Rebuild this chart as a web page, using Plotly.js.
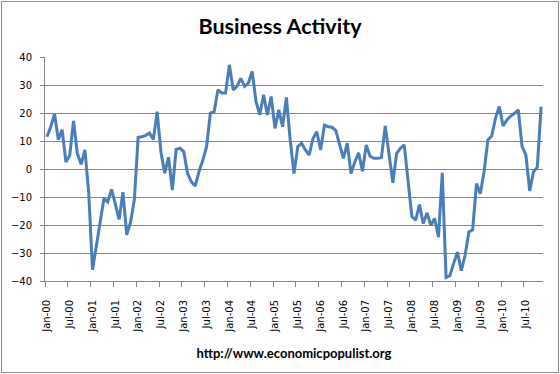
<!DOCTYPE html>
<html>
<head>
<meta charset="utf-8">
<script src="https://cdn.plot.ly/plotly-3.0.1.min.js"></script>
<style>
  html, body { margin: 0; padding: 0; background: #fff; }
  #wrap { position: relative; width: 560px; height: 374px; }
  #chart { width: 560px; height: 374px; }
  #frame { position: absolute; left: 1px; top: 1px; width: 556px; height: 370px;
           border: 1px solid #8c8c8c; pointer-events: none; }
</style>
</head>
<body>
<div id="wrap"><div id="chart"></div><div id="frame"></div></div>
<script>
// Month categories Jan-00 .. Nov-10
const monthNames = ['Jan','Feb','Mar','Apr','May','Jun','Jul','Aug','Sep','Oct','Nov','Dec'];
const months = [];
for (let y = 0; y <= 10; y++) {
  for (let m = 0; m < 12; m++) {
    if (months.length < 131) months.push(monthNames[m] + '-' + String(y).padStart(2, '0'));
  }
}

const tickLabels = ['Jan-00','Jul-00','Jan-01','Jul-01','Jan-02','Jul-02','Jan-03','Jul-03',
  'Jan-04','Jul-04','Jan-05','Jul-05','Jan-06','Jul-06','Jan-07','Jul-07','Jan-08','Jul-08',
  'Jan-09','Jul-09','Jan-10','Jul-10'];

const yTicks = [-40,-30,-20,-10,0,10,20,30,40];

const businessActivity = [
  11.5, 15, 19.7, 10.5, 14, 2.5, 4.8, 17.2, 5.6, 1.7, 6.8, -8.5,
  -36, -27, -18.5, -10.5, -11.8, -7.3, -12.5, -18, -8.3, -23.5, -19, -11,
  11.3, 11.5, 12, 12.8, 10.5, 20.5, 6, -1.5, 4.2, -7.5, 7, 7.4,
  6.2, -1.6, -4.6, -6.1, -1, 3, 8, 20, 20.5, 28.3, 27.1, 27.1,
  37.2, 28.3, 29.5, 32.4, 29.5, 30.7, 34.8, 24.1, 19.3, 26.5, 19.3, 25.9,
  14.5, 21.1, 15.1, 25.6, 10.3, -1.6, 8, 9.2, 6.8, 5, 10.9, 13.3,
  6.8, 15.7, 15.1, 14.9, 13.7, 9.2, 3.8, 9.2, -1.6, 2.5, 5.8, -0.8,
  8.6, 4.6, 3.8, 3.8, 4.1, 15.4, 5.6, -4.9, 5.6, 7.4, 8.6, -4,
  -16.9, -18.3, -12.7, -19.5, -15.7, -20.1, -17.7, -24.3, -1.4, -38.7, -38.1, -33.7,
  -29.7, -36.3, -30.9, -22.5, -21.7, -5.2, -8.8, -1, 10.4, 11.8, 18.1, 22.3,
  15.4, 17.5, 18.9, 19.9, 21.1, 8, 5, -7.8, -1, 0.6, 22.3
];

// tick marks sit on category boundaries, before each labelled month
const boundaryTicks = tickLabels.map(t => months.indexOf(t) - 0.5);

const gridGray = '#868686';
const tickFont = {family: 'DejaVu Sans', size: 10, color: '#000'};

const data = [
  {
    type: 'scatter', mode: 'lines',
    x: months, y: businessActivity,
    line: {color: '#4A7EBB', width: 3},
    hoverinfo: 'x+y', showlegend: false
  },
  {
    type: 'scatter', mode: 'lines', x: [null], y: [null],
    xaxis: 'x2', showlegend: false, hoverinfo: 'skip'
  }
];

const layout = {
  width: 560, height: 374,
  margin: {l: 45, r: 17, t: 57, b: 93, pad: 0},
  paper_bgcolor: '#ffffff', plot_bgcolor: '#ffffff',
  showlegend: false,
  title: {
    text: '<b>Business Activity</b>',
    font: {family: 'Lato', size: 21.5, color: '#000'},
    x: 0.5, xanchor: 'center', y: 0.928, yanchor: 'middle'
  },
  xaxis: {
    type: 'category', range: [-0.5, months.length - 0.5],
    tickmode: 'array', tickvals: tickLabels, ticktext: tickLabels,
    tickangle: -90, ticks: '', showgrid: false, zeroline: false,
    showline: true, linecolor: gridGray, linewidth: 1,
    tickfont: tickFont, ticklabelstandoff: 14,
    title: {text: '<b>http://www.economicpopulist.org</b>',
            font: {family: 'Lato', size: 13, color: '#000'}, standoff: 17},
    fixedrange: true
  },
  xaxis2: {
    overlaying: 'x', type: 'linear', range: [-0.5, months.length - 0.5],
    tickmode: 'array', tickvals: boundaryTicks, ticks: 'outside', ticklen: 5,
    tickcolor: gridGray, tickwidth: 1, showticklabels: false,
    showgrid: false, zeroline: false, showline: false, side: 'bottom', fixedrange: true
  },
  yaxis: {
    range: [-40, 40], tickmode: 'array', tickvals: yTicks,
    showgrid: true, gridcolor: gridGray, gridwidth: 1, zeroline: false,
    showline: true, linecolor: gridGray, linewidth: 1,
    ticks: 'outside', ticklen: 4, tickcolor: gridGray,
    tickfont: tickFont, ticklabelstandoff: 6, fixedrange: true
  }
};

Plotly.newPlot('chart', data, layout, {displayModeBar: false, staticPlot: true});
</script>
</body>
</html>
